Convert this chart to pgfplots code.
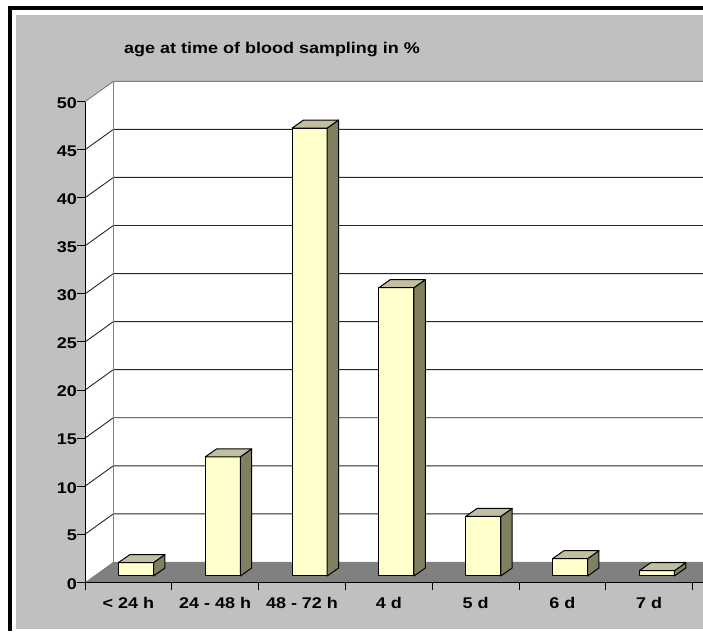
\documentclass[border=0pt]{standalone}
\usepackage{pgfplots}
\pgfplotsset{compat=1.18}
\usepackage{pgfplotstable}
\usepackage{fontspec}
\setmainfont{Liberation Sans}[FakeStretch=1.16]

\definecolor{bggray}{RGB}{192,192,192}
\definecolor{floorgray}{RGB}{128,128,128}
\definecolor{barfront}{RGB}{255,255,204}
\definecolor{barside}{RGB}{128,128,96}
\definecolor{bartop}{RGB}{192,192,160}
\definecolor{wallborder}{RGB}{128,128,128}

\pgfplotstableread{
idx value
0 1.4
1 12.4
2 46.6
3 30.0
4 6.2
5 1.8
6 0.55
}\agedata

\newcommand\lblfont{\fontsize{15.5bp}{18bp}\selectfont\bfseries}

\begin{document}
\begin{tikzpicture}
\begin{axis}[
  set layers,
  scale only axis, width=618bp, height=480.6bp,
  xmin=-0.5, xmax=6.62, ymin=0, ymax=50,
  clip=false,
  axis x line*=bottom, axis y line*=left,
  axis line style={black, line width=1bp},
  tick align=outside,
  major tick length=8bp,
  tick style={black, line width=1bp},
  xtick={-0.5,0.5,...,6.5},
  xticklabels={},
  extra x ticks={0,...,6},
  extra x tick labels={{< 24 h},{24 - 48 h},{48 - 72 h},{4 d},{5 d},{6 d},{7 d}},
  extra x tick style={major tick length=0pt, tick style={draw=none}},
  ytick={0,5,...,50},
  /pgf/number format/assume math mode=true,
  tick label style={font=\lblfont},
  xticklabel style={anchor=base, inner sep=0pt, yshift=-26bp},
  yticklabel style={anchor=east, inner sep=0pt, yshift=-1.5bp},
]
\begin{pgfonlayer}{axis background}
  % page background and frame
  \fill[white] (axis cs:-1.4793,-5.067) rectangle (axis cs:6.6198,60.58);
  \fill[black] (axis cs:-1.387,59.541) rectangle (axis cs:6.6198,59.957);
  \fill[black] (axis cs:-1.387,-5.067) rectangle (axis cs:-1.341,59.957);
  \fill[bggray] (axis cs:-1.295,-4.859) rectangle (axis cs:6.6198,59.02);
  % side wall, back wall, floor
  \fill[white] (axis cs:-0.5,0) -- (axis cs:-0.173,2.12) -- (axis cs:-0.173,52.12) -- (axis cs:-0.5,50) -- cycle;
  \fill[white] (axis cs:-0.173,2.12) rectangle (axis cs:6.6198,52.12);
  \fill[floorgray] (axis cs:-0.5,0) -- (axis cs:6.6198,0) -- (axis cs:6.6198,2.12) -- (axis cs:-0.173,2.12) -- cycle;
  % gridlines
  \pgfplotsinvokeforeach{5,10,...,45}{
    \draw[black!85, line width=0.9bp] (axis cs:-0.5,#1) -- (axis cs:-0.173,#1+2.12) -- (axis cs:6.6198,#1+2.12);
  }
  \draw[wallborder, line width=1bp] (axis cs:-0.5,50) -- (axis cs:-0.173,52.12) -- (axis cs:6.6198,52.12);
  \draw[wallborder, line width=1bp] (axis cs:-0.173,2.12) -- (axis cs:-0.173,52.12);
\end{pgfonlayer}

\pgfplotsinvokeforeach{0,...,6}{
  \pgfplotstablegetelem{#1}{value}\of\agedata
  \let\v\pgfplotsretval
  \pgfmathsetmacro\xa{#1-0.1135}
  \pgfmathsetmacro\xb{#1+0.29}
  \pgfmathsetmacro\xc{#1+0.421}
  \pgfmathsetmacro\xd{#1+0.0175}
  \pgfmathsetmacro\ya{0.656}
  \pgfmathsetmacro\yb{0.656+\v}
  \pgfmathsetmacro\yc{1.488}
  \pgfmathsetmacro\yd{1.488+\v}
  \edef\temp{%
    \noexpand\addplot[fill=barfront, draw=black, line width=1bp, line join=round] coordinates {(\xa,\ya) (\xb,\ya) (\xb,\yb) (\xa,\yb)} -- cycle;
    \noexpand\addplot[fill=barside, draw=black, line width=1bp, line join=round] coordinates {(\xb,\ya) (\xc,\yc) (\xc,\yd) (\xb,\yb)} -- cycle;
    \noexpand\addplot[fill=bartop, draw=black, line width=1bp, line join=round] coordinates {(\xa,\yb) (\xb,\yb) (\xc,\yd) (\xd,\yd)} -- cycle;
  }\temp
}

\node[anchor=base west, inner sep=0pt, font=\lblfont] at (axis cs:-0.0507,55.05) {age at time of blood sampling in \%};
\coordinate (BL) at (axis cs:-1.4793,-5.067);
\coordinate (TR) at (axis cs:6.6198,60.58);
\end{axis}
\pgfresetboundingbox
\useasboundingbox (BL) rectangle (TR);
\end{tikzpicture}
\end{document}
